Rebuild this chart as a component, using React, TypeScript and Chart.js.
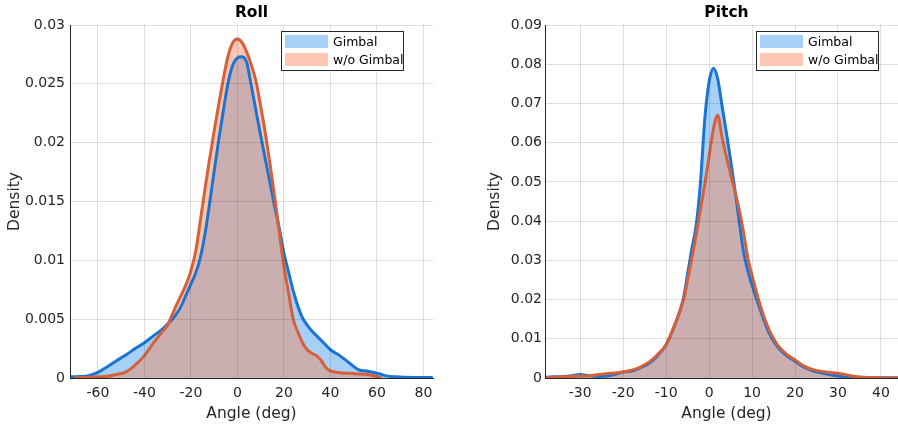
import React, { useEffect, useRef } from 'react';
import { Chart, registerables } from 'chart.js';

Chart.register(...registerables);

// ---- Roll: kernel density of the roll angle (deg) ----
const rollAngles = [
  -72, -70, -68, -64, -60, -56, -52, -48, -44, -40, -36, -32,
  -30, -28, -26, -24, -22, -20, -18, -16, -14, -12, -10, -8, -6, -4, -2,
  0, 2, 4, 6, 8, 10, 12, 14, 16, 18, 20, 22, 24, 26, 28, 30,
  32, 34, 36, 38, 40, 44, 48, 52, 56, 60, 62, 64, 68, 72, 76, 80, 84,
];
const rollGimbal = [
  0.0001, 0.0001, 0.00012, 0.0002, 0.00047, 0.00095, 0.00147, 0.00195, 0.0025, 0.003, 0.0036, 0.0042,
  0.0046, 0.005, 0.0055, 0.0062, 0.0071, 0.008, 0.0089, 0.0102, 0.0122, 0.0148, 0.0176, 0.0203, 0.0228, 0.0251, 0.0266,
  0.0272, 0.0273, 0.0268, 0.0248, 0.0227, 0.0206, 0.0186, 0.0166, 0.0146, 0.0127, 0.0106, 0.009, 0.0074, 0.0061, 0.0051, 0.0045,
  0.004, 0.0036, 0.0032, 0.0028, 0.0024, 0.0019, 0.0013, 0.00072, 0.00057, 0.0004, 0.0003, 0.00018, 0.0001, 0.00006, 0.00005, 0.00005, 0.00005,
];
const rollNoGimbal = [
  null, 0.00002, 0.00003, 0.00005, 0.0001, 0.00015, 0.0003, 0.0005, 0.0011, 0.0019, 0.003, 0.004,
  0.0045, 0.0054, 0.0063, 0.0071, 0.008, 0.0091, 0.0107, 0.0133, 0.016, 0.0186, 0.021, 0.0233, 0.0255, 0.0274, 0.0285,
  0.0288, 0.0285, 0.0277, 0.0266, 0.0252, 0.0231, 0.0208, 0.0182, 0.0154, 0.0124, 0.0095, 0.0072, 0.005, 0.0039, 0.003, 0.0024,
  0.0021, 0.0019, 0.0015, 0.0009, 0.0006, 0.00045, 0.0004, 0.00035, 0.0003, 0.00012, 0.00002, null, null, null, null, null, null,
];
const rollXTicks = [-60, -40, -20, 0, 20, 40, 60, 80];
const rollYTicks = [0, 0.005, 0.01, 0.015, 0.02, 0.025, 0.03];

// ---- Pitch: kernel density of the pitch angle (deg) ----
const pitchAngles = [
  -38, -36, -34, -32, -30, -28, -26, -24, -22, -20, -18, -16, -14, -12, -10, -8, -6,
  -5, -4, -3, -2, -1, 0, 1, 2, 3, 4, 5, 6, 7, 8, 9, 10,
  12, 14, 16, 18, 20, 22, 24, 26, 28, 30, 32, 34, 36, 38, 40, 42, 44, 46,
];
const pitchGimbal = [
  0.0002, 0.0003, 0.0004, 0.0006, 0.0009, 0.0006, 0.0004, 0.0005, 0.0009, 0.0015, 0.0018, 0.0026, 0.0037, 0.0057, 0.0085, 0.0135, 0.0202,
  0.0265, 0.0331, 0.039, 0.05, 0.066, 0.0755, 0.079, 0.0763, 0.0695, 0.0627, 0.0556, 0.048, 0.04, 0.0323, 0.0274, 0.0237,
  0.0171, 0.0114, 0.0079, 0.0057, 0.0043, 0.0028, 0.0019, 0.0013, 0.0009, 0.0005, 0.0003, 0.0002, 0.0001, 0.00006, 0.00005, 0.00005, 0.00005, 0.00005,
];
const pitchNoGimbal = [
  0.0001, 0.0002, 0.0003, 0.0004, 0.0005, 0.0006, 0.0008, 0.0011, 0.0013, 0.0016, 0.002, 0.0028, 0.004, 0.006, 0.0085, 0.0136, 0.0197,
  0.025, 0.0306, 0.0365, 0.043, 0.0495, 0.0565, 0.0635, 0.067, 0.0615, 0.0565, 0.052, 0.0476, 0.043, 0.0372, 0.0307, 0.0261,
  0.0182, 0.0122, 0.0083, 0.0061, 0.0046, 0.0031, 0.0022, 0.0017, 0.0014, 0.0012, 0.0008, 0.0004, 0.0002, 0.0001, 0.00005, 0.00003, 0.00003, 0.00003,
];
const pitchXTicks = [-30, -20, -10, 0, 10, 20, 30, 40];
const pitchYTicks = [0, 0.01, 0.02, 0.03, 0.04, 0.05, 0.06, 0.07, 0.08, 0.09];

const seriesLabels = ['Gimbal', 'w/o Gimbal'];

const FONT = "'DejaVu Sans', 'Liberation Sans', sans-serif";
const AXIS_COLOR = '#262626';
const GRID_COLOR = 'rgba(38,38,38,0.15)';
const GIMBAL_LINE = '#1c74d2';
const GIMBAL_FILL = 'rgba(58,151,240,0.45)';
const NO_GIMBAL_LINE = '#d5613b';
const NO_GIMBAL_FILL = 'rgba(248,133,88,0.45)';

const CANVAS_W = 450;
const CANVAS_H = 427;

// Boxed legend drawn in the upper right corner of the plot area
const boxLegend = {
  id: 'boxLegend',
  afterDraw(chart: any) {
    const { ctx, chartArea } = chart;
    const w = 122;
    const h = 39;
    const x = chartArea.right - 30 - w;
    const y = chartArea.top + 6;
    ctx.save();
    ctx.fillStyle = '#ffffff';
    ctx.fillRect(x, y, w, h);
    ctx.strokeStyle = AXIS_COLOR;
    ctx.lineWidth = 1;
    ctx.strokeRect(x + 0.5, y + 0.5, w, h);
    ctx.font = `12.5px ${FONT}`;
    ctx.textBaseline = 'middle';
    ctx.textAlign = 'left';
    chart.data.datasets.forEach((ds: any, i: number) => {
      const cy = y + 10.5 + i * 18;
      ctx.fillStyle = ds.backgroundColor;
      ctx.fillRect(x + 4, cy - 6.5, 43, 13);
      ctx.fillStyle = '#000000';
      ctx.fillText(ds.label, x + 52, cy + 1);
    });
    ctx.restore();
  },
};

type PanelProps = {
  title: string;
  angles: number[];
  gimbal: (number | null)[];
  noGimbal: (number | null)[];
  xTicks: number[];
  yTicks: number[];
  xMin: number;
  xMax: number;
  left: number;
  yTitlePad: number;
  yTickPad: number;
};

function DensityPanel(p: PanelProps) {
  const ref = useRef<HTMLCanvasElement>(null);

  useEffect(() => {
    if (!ref.current) return;
    const toPoints = (vals: (number | null)[]) => p.angles.map((a, i) => ({ x: a, y: vals[i] }));
    const fmt = (v: number) => String(Number(v.toFixed(4)));

    const chart = new Chart(ref.current, {
      type: 'line',
      data: {
        datasets: [
          {
            label: seriesLabels[0],
            data: toPoints(p.gimbal) as any,
            borderColor: GIMBAL_LINE,
            backgroundColor: GIMBAL_FILL,
            fill: 'origin',
            borderWidth: 3,
            pointRadius: 0,
            cubicInterpolationMode: 'monotone',
            order: 1,
          },
          {
            label: seriesLabels[1],
            data: toPoints(p.noGimbal) as any,
            borderColor: NO_GIMBAL_LINE,
            backgroundColor: NO_GIMBAL_FILL,
            fill: 'origin',
            borderWidth: 3,
            pointRadius: 0,
            cubicInterpolationMode: 'monotone',
            order: 0,
          },
        ],
      },
      options: {
        animation: false,
        responsive: false,
        devicePixelRatio: 1,
        events: [],
        layout: { padding: { left: 0, right: 17, top: 0, bottom: 0 }, autoPadding: false },
        plugins: {
          legend: { display: false },
          tooltip: { enabled: false },
          filler: { drawTime: 'beforeDatasetsDraw' },
          title: {
            display: true,
            text: p.title,
            fullSize: false,
            color: '#000000',
            font: { family: FONT, size: 15.5, weight: 'bold', lineHeight: 1.2 },
            padding: { top: 4, bottom: 2.4 },
          },
        },
        scales: {
          x: {
            type: 'linear',
            min: p.xMin,
            max: p.xMax,
            afterFit: (s: any) => { s.height = 49; },
            afterBuildTicks: (s: any) => { s.ticks = p.xTicks.map((v) => ({ value: v })); },
            ticks: {
              includeBounds: false,
              color: AXIS_COLOR,
              padding: 6.5,
              maxRotation: 0,
              font: { family: FONT, size: 14 },
              callback: (v: any) => String(v),
            },
            grid: { color: GRID_COLOR, drawTicks: false, z: 1 },
            border: { display: true, color: AXIS_COLOR, width: 1, z: 1 },
            title: {
              display: true,
              text: 'Angle (deg)',
              color: AXIS_COLOR,
              font: { family: FONT, size: 15.5, lineHeight: 1.2 },
              padding: { top: 0, bottom: 4 },
            },
          },
          y: {
            type: 'linear',
            min: p.yTicks[0],
            max: p.yTicks[p.yTicks.length - 1],
            afterFit: (s: any) => { s.width = 70; },
            afterBuildTicks: (s: any) => { s.ticks = p.yTicks.map((v) => ({ value: v })); },
            ticks: {
              color: AXIS_COLOR,
              padding: p.yTickPad,
              font: { family: FONT, size: 14 },
              callback: (v: any) => fmt(Number(v)),
            },
            grid: { color: GRID_COLOR, drawTicks: false, z: 1 },
            border: { display: true, color: AXIS_COLOR, width: 1, z: 1 },
            title: {
              display: true,
              text: 'Density',
              color: AXIS_COLOR,
              font: { family: FONT, size: 15.5, lineHeight: 1.2 },
              padding: { top: p.yTitlePad, bottom: 0 },
            },
          },
        },
      },
      plugins: [boxLegend],
    } as any);

    return () => chart.destroy();
  }, []);

  return (
    <canvas
      ref={ref}
      width={CANVAS_W}
      height={CANVAS_H}
      style={{ position: 'absolute', left: p.left, top: 0, width: CANVAS_W, height: CANVAS_H }}
    />
  );
}

export default function App() {
  return (
    <div
      style={{
        position: 'fixed',
        left: 0,
        top: 0,
        width: 898,
        height: 427,
        overflow: 'hidden',
        background: '#ffffff',
      }}
    >
      <DensityPanel
        title="Roll"
        angles={rollAngles}
        gimbal={rollGimbal}
        noGimbal={rollNoGimbal}
        xTicks={rollXTicks}
        yTicks={rollYTicks}
        xMin={-72}
        xMax={84.1}
        left={0}
        yTitlePad={6}
        yTickPad={5}
      />
      <DensityPanel
        title="Pitch"
        angles={pitchAngles}
        gimbal={pitchGimbal}
        noGimbal={pitchNoGimbal}
        xTicks={pitchXTicks}
        yTicks={pitchYTicks}
        xMin={-38.2}
        xMax={46.3}
        left={475}
        yTitlePad={11}
        yTickPad={3}
      />
    </div>
  );
}
